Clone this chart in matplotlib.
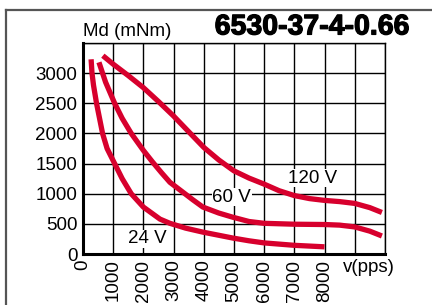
import matplotlib
matplotlib.use("Agg")
import matplotlib.pyplot as plt
import matplotlib.patheffects as pe
from matplotlib.lines import Line2D

plt.rcParams['font.family'] = ['Liberation Sans', 'DejaVu Sans']

# speed (pps) / torque (mNm)
v_24 = [270, 300, 350, 450, 550, 650, 800, 1050, 1300, 1600, 2000, 2550, 2880,
        3400, 3970, 4970, 5500, 6000, 7000, 8000]
md_24 = [3230, 3000, 2800, 2500, 2250, 2000, 1750, 1500, 1250, 1000, 780, 580, 510,
         430, 364, 265, 220, 185, 145, 120]

v_60 = [530, 750, 1050, 1300, 1600, 2000, 2300, 2600, 2880, 3300, 3640, 3970, 4500,
        4970, 5500, 6000, 7000, 8000, 8500, 9000, 9500, 9900]
md_60 = [3180, 2850, 2500, 2250, 2000, 1720, 1530, 1350, 1190, 1030, 900, 780, 680,
         610, 540, 510, 495, 490, 480, 450, 380, 300]

v_120 = [660, 1000, 1500, 2000, 2500, 3000, 3500, 4000, 4500, 5000, 5500, 6000, 6500,
         7000, 7500, 8000, 8500, 9000, 9500, 9900]
md_120 = [3290, 3150, 2960, 2760, 2530, 2290, 2030, 1770, 1560, 1380, 1260, 1160, 1050,
          970, 920, 890, 870, 840, 770, 690]

curve_labels = ['24 V', '60 V', '120 V']
label_pos = [(2120, 250), (4930, 944), (7620, 1260)]

x_ticks = list(range(0, 10001, 1000))
x_tick_labels = [str(t) if t <= 8000 else '' for t in x_ticks]
y_ticks = list(range(0, 3501, 500))
y_tick_labels = [str(t) if t <= 3000 else '' for t in y_ticks]

red = '#d7002d'

fig = plt.figure(figsize=(4.32, 3.05), dpi=100)
ax = fig.add_axes([0.192, 0.167, 0.699, 0.692])

for v, md in [(v_24, md_24), (v_60, md_60), (v_120, md_120)]:
    ax.plot(v, md, color=red, lw=3.8, solid_capstyle='butt', solid_joinstyle='round', zorder=3)

for txt, (x, y) in zip(curve_labels, label_pos):
    ax.text(x, y, txt, fontsize=13.5, ha='center', va='center', zorder=4,
            bbox=dict(facecolor='white', edgecolor='none', pad=0.5))

ax.set_xlim(0, 10000)
ax.set_ylim(0, 3500)
ax.set_xticks(x_ticks)
ax.set_xticklabels(x_tick_labels, rotation=90, fontsize=13.5)
ax.set_yticks(y_ticks)
ax.set_yticklabels(y_tick_labels, fontsize=13.5)
ax.tick_params(length=0, pad=4)
ax.grid(True, color='black', lw=1.0, zorder=1)
ax.set_axisbelow(True)

for s in ['top', 'right']:
    ax.spines[s].set_linewidth(1.0)
for s in ['left', 'bottom']:
    ax.spines[s].set_linewidth(2.2)

fig.text(0.192, 0.868, 'Md (mNm)', fontsize=13.5, ha='left', va='bottom')
fig.text(0.794, 0.122, 'v(pps)', fontsize=13.5, ha='left', va='center')
fig.text(0.947, 0.91, '6530-37-4-0.66', fontsize=20.5, fontweight='bold', ha='right', va='center',
         path_effects=[pe.withStroke(linewidth=0.9, foreground='black')])

# outer frame lines (top and left)
fig.add_artist(Line2D([0.014, 1.0], [0.967, 0.967], transform=fig.transFigure, color='#555555', lw=1.6))
fig.add_artist(Line2D([0.014, 0.014], [0.0, 0.967], transform=fig.transFigure, color='#555555', lw=1.6))

fig.savefig('out.png', dpi=100)
